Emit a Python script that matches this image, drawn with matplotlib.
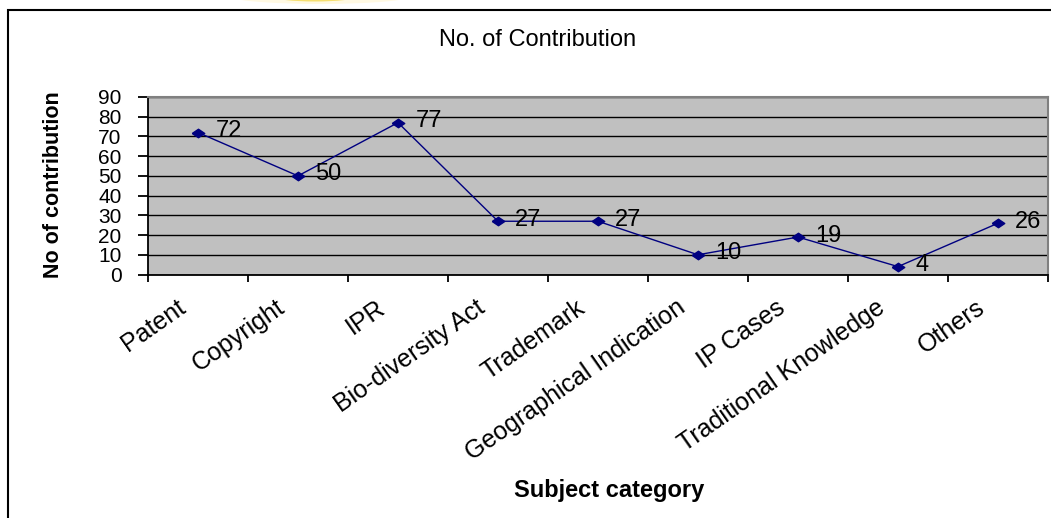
import matplotlib
matplotlib.use("Agg")
import matplotlib.pyplot as plt
from matplotlib.patches import Rectangle, Ellipse
from matplotlib.transforms import offset_copy, blended_transform_factory

categories = ["Patent", "Copyright", "IPR", "Bio-diversity Act", "Trademark",
              "Geographical Indication", "IP Cases", "Traditional Knowledge", "Others"]
values = [72, 50, 77, 27, 27, 10, 19, 4, 26]
yticks = [0, 10, 20, 30, 40, 50, 60, 70, 80, 90]

plt.rcParams['font.family'] = ['Liberation Sans', 'DejaVu Sans']

W, H = 1051, 518
fig = plt.figure(figsize=(W / 100, H / 100), dpi=100)
fig.patch.set_facecolor('white')


def fx(px):
    return px / W


def fy(py):
    return 1 - py / H


# small yellow glow at the top edge
fig.patches.append(Ellipse((fx(320), fy(-5)), 190 / W, 18 / H, transform=fig.transFigure,
                           facecolor='#FFF8DC', edgecolor='none', alpha=0.8))
fig.patches.append(Ellipse((fx(315), fy(-3)), 80 / W, 9 / H, transform=fig.transFigure,
                           facecolor='#F6DF70', edgecolor='none'))

# chart-area frame
fig.patches.append(Rectangle((fx(8), -0.05), 1.2, fy(10) + 0.05, transform=fig.transFigure,
                             fill=False, edgecolor='black', linewidth=1.5))

left, right, top, bottom = 148, 1048, 97, 274.5
ax = fig.add_axes([fx(left), fy(bottom), (right - left) / W, (bottom - top) / H])
ax.set_facecolor('#C0C0C0')

# wide diamond marker
diamond = [(-1, 0), (0, 0.68), (1, 0), (0, -0.68), (-1, 0)]
x = list(range(len(categories)))
ax.plot(x, values, color='#000080', linewidth=1.0, marker=diamond, markersize=9,
        markerfacecolor='#000080', markeredgecolor='#000080', zorder=3)

for xi, v in zip(x, values):
    t = offset_copy(ax.transData, fig=fig, x=12.5, y=1, units='points')
    ax.text(xi, v, str(v), transform=t, ha='left', va='center', fontsize=17,
            color='black', zorder=4, clip_on=False)

ax.set_xlim(-0.5, len(categories) - 0.5)
ax.set_ylim(0, 90)
ax.set_yticks(yticks)
ax.set_yticklabels([str(v) for v in yticks], fontsize=15)
ax.yaxis.grid(True, color='black', linewidth=1.0)
ax.set_axisbelow(True)

ax.set_xticks([i - 0.5 for i in range(len(categories) + 1)])
ax.set_xticklabels([])
ax.tick_params(axis='x', which='major', length=5, width=1.3, direction='out', color='black')
ax.tick_params(axis='y', length=7, width=1.3, direction='out', pad=12, color='black')

# rotated category labels
lab_tr = offset_copy(blended_transform_factory(ax.transData, ax.transAxes), fig=fig,
                     x=-16, y=-15, units='points')
for xi, c in zip(x, categories):
    ax.text(xi, 0, c, transform=lab_tr, rotation=35, rotation_mode='anchor',
            ha='right', va='top', fontsize=18, clip_on=False)

for s in ['left', 'bottom']:
    ax.spines[s].set_color('black')
    ax.spines[s].set_linewidth(1.3)
for s in ['top', 'right']:
    ax.spines[s].set_color('#808080')
    ax.spines[s].set_linewidth(1.5)

fig.text(fx(538), fy(46.5), "No. of Contribution", ha='center', va='baseline', fontsize=17)
fig.text(fx(54), fy(185), "No of contribution", ha='center', va='center', rotation=90,
         fontsize=15.5, fontweight='bold')
fig.text(fx(609), fy(497.5), "Subject category", ha='center', va='baseline',
         fontsize=17, fontweight='bold')

fig.savefig("out.png", dpi=100)
